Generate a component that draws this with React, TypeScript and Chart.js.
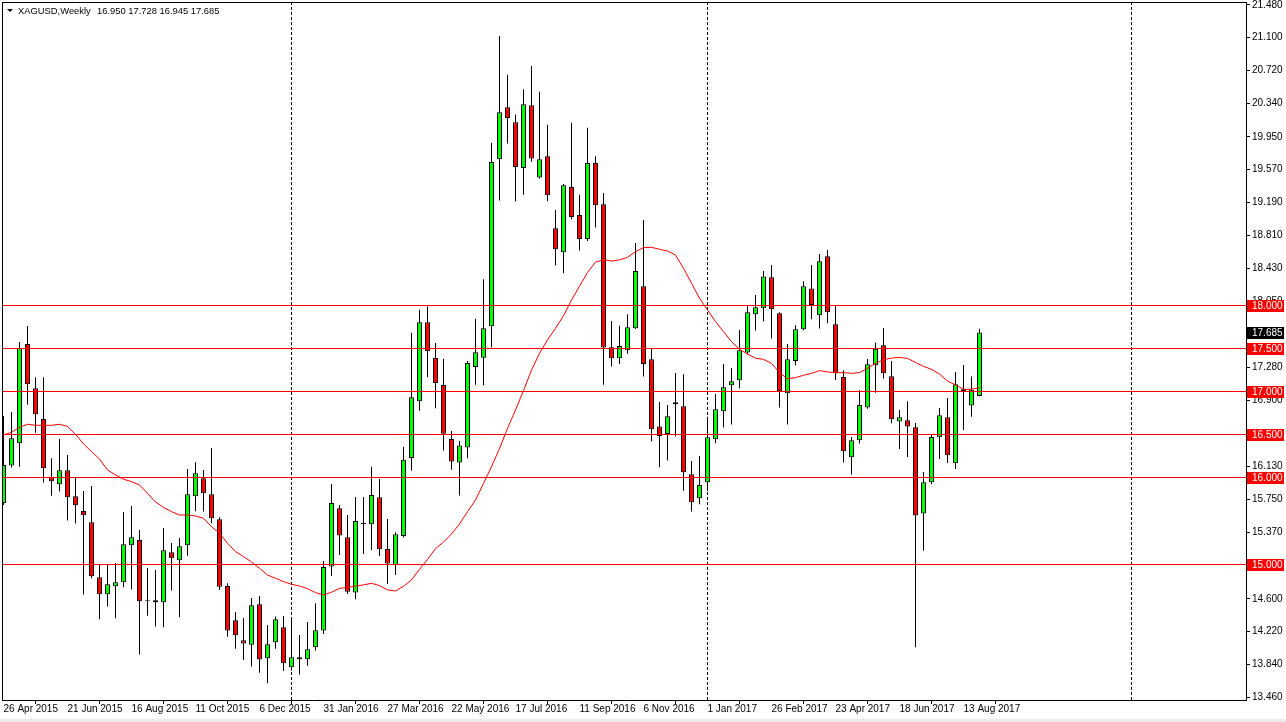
import React, { useEffect, useRef } from 'react';
import { Chart, registerables } from 'chart.js';
Chart.register(...registerables);

const symbolTitle = 'XAGUSD,Weekly';

const opens = [
  15.707, 16.143, 16.402, 17.552, 17.039, 16.683, 16.008, 15.927, 16.089, 15.788,
  15.618, 15.486, 14.849, 14.653, 14.745, 14.792, 15.220, 15.282, 14.578, 14.583,
  14.560, 15.139, 15.046, 15.220, 15.788, 15.996, 15.811, 15.521, 14.749, 14.351,
  14.120, 14.069, 14.537, 13.911, 14.097, 14.270, 13.807, 13.923, 13.900, 14.039,
  14.232, 14.973, 15.649, 15.313, 14.672, 15.467, 15.463, 15.776, 15.178, 14.992,
  15.327, 16.231, 16.888, 17.804, 17.389, 17.076, 16.450, 16.180, 16.352, 17.284,
  17.393, 17.757, 19.691, 20.294, 20.121, 19.589, 20.317, 19.479, 19.726, 18.892,
  18.614, 19.370, 19.045, 18.767, 19.648, 19.170, 17.514, 17.386, 17.479, 17.734,
  18.220, 17.375, 16.595, 16.510, 16.853, 16.830, 16.042, 15.764, 15.950, 16.448,
  16.772, 17.073, 17.131, 17.452, 17.896, 17.965, 18.324, 17.907, 16.981, 17.355,
  17.722, 18.193, 17.884, 18.568, 17.780, 17.170, 16.239, 16.436, 16.815, 17.305,
  17.537, 17.178, 16.653, 16.668, 16.587, 15.587, 15.950, 16.471, 16.703, 16.170,
  17.027, 16.838, 16.950,
];
const highs = [
  16.718, 16.764, 17.575, 17.761, 17.166, 17.166, 16.228, 16.452, 16.266, 16.012,
  15.849, 15.907, 15.000, 15.000, 15.015, 15.606, 15.676, 15.398, 14.958, 14.934,
  15.421, 15.247, 15.305, 16.104, 16.181, 16.093, 16.347, 15.544, 14.780, 14.448,
  14.378, 14.610, 14.633, 14.297, 14.394, 14.402, 14.363, 14.181, 14.332, 14.548,
  15.039, 15.931, 15.687, 15.571, 15.780, 15.780, 16.131, 15.988, 15.525, 15.371,
  16.360, 17.683, 17.949, 17.988, 17.562, 17.382, 16.544, 16.427, 17.354, 17.843,
  18.301, 19.883, 21.119, 20.669, 20.211, 20.501, 20.771, 20.474, 20.090, 19.104,
  19.405, 20.113, 19.280, 20.055, 19.726, 19.300, 17.819, 17.764, 17.896, 18.722,
  18.988, 17.494, 16.880, 16.846, 17.216, 17.201, 16.197, 16.255, 16.710, 16.973,
  17.320, 17.274, 17.714, 18.000, 18.120, 18.398, 18.467, 17.919, 17.552, 17.768,
  18.278, 18.467, 18.595, 18.641, 17.996, 17.247, 16.475, 17.019, 17.378, 17.568,
  17.737, 17.355, 16.788, 16.888, 16.637, 16.069, 16.498, 16.811, 16.927, 17.228,
  17.309, 17.174, 17.728,
];
const lows = [
  15.687, 16.120, 16.131, 16.849, 16.525, 15.946, 15.795, 15.842, 15.506, 15.471,
  14.649, 14.838, 14.363, 14.510, 14.375, 14.734, 14.707, 13.954, 14.405, 14.278,
  14.270, 14.695, 14.386, 15.100, 15.614, 15.610, 15.475, 14.703, 14.162, 14.023,
  13.892, 13.815, 13.745, 13.622, 14.023, 13.764, 13.768, 13.722, 13.826, 14.000,
  14.193, 14.865, 15.108, 14.656, 14.595, 15.120, 15.166, 15.097, 14.772, 14.876,
  15.310, 16.082, 16.779, 17.166, 16.806, 16.317, 16.094, 15.796, 16.227, 17.080,
  17.072, 17.511, 19.213, 19.875, 19.202, 19.280, 19.663, 19.468, 19.205, 18.462,
  18.372, 18.998, 18.634, 18.744, 18.900, 17.080, 17.290, 17.320, 17.440, 17.725,
  17.174, 16.421, 16.124, 16.201, 16.479, 15.853, 15.610, 15.695, 15.853, 16.402,
  16.583, 16.618, 17.035, 17.432, 17.707, 17.811, 17.614, 16.815, 16.618, 17.305,
  17.710, 17.838, 17.730, 17.792, 17.135, 16.178, 16.039, 16.398, 16.803, 16.988,
  17.151, 16.633, 16.336, 16.243, 14.039, 15.158, 15.927, 16.220, 16.174, 16.104,
  16.556, 16.710, 16.945,
];
const closes = [
  16.151, 16.459, 17.502, 17.085, 16.737, 16.112, 15.961, 16.089, 15.776, 15.683,
  15.568, 14.861, 14.653, 14.768, 14.792, 15.232, 15.313, 14.571, 14.578, 14.560,
  15.162, 15.069, 15.208, 15.811, 16.054, 15.822, 15.533, 14.741, 14.232, 14.178,
  14.081, 14.525, 13.896, 14.073, 14.363, 13.853, 13.923, 13.900, 14.015, 14.236,
  14.969, 15.710, 15.332, 14.683, 15.502, 15.467, 15.803, 15.174, 15.008, 15.347,
  16.211, 16.935, 17.804, 17.468, 17.100, 16.513, 16.192, 16.376, 17.331, 17.456,
  17.734, 19.659, 20.235, 20.168, 19.601, 20.329, 19.699, 19.691, 19.276, 18.650,
  19.389, 19.022, 18.767, 19.648, 19.159, 17.510, 17.386, 17.529, 17.745, 18.398,
  17.320, 16.564, 16.486, 16.714, 16.876, 16.066, 15.718, 15.919, 16.471, 16.795,
  17.050, 17.120, 17.479, 17.919, 17.977, 18.332, 17.954, 17.004, 17.375, 17.722,
  18.220, 18.004, 18.510, 17.919, 17.212, 16.309, 16.436, 16.846, 17.317, 17.498,
  17.212, 16.680, 16.703, 16.595, 15.564, 15.950, 16.475, 16.726, 16.263, 17.085,
  17.004, 17.023, 17.685,
];
const maValues = [
  16.498, 16.529, 16.587, 16.622, 16.610, 16.610, 16.610, 16.622, 16.598, 16.506,
  16.394, 16.305, 16.220, 16.093, 16.035, 15.985, 15.958, 15.919, 15.822, 15.722,
  15.660, 15.610, 15.571, 15.571, 15.560, 15.533, 15.436, 15.359, 15.243, 15.147,
  15.089, 15.027, 14.954, 14.876, 14.838, 14.799, 14.768, 14.749, 14.718, 14.672,
  14.645, 14.676, 14.722, 14.730, 14.749, 14.761, 14.780, 14.753, 14.703, 14.691,
  14.745, 14.818, 14.941, 15.057, 15.181, 15.258, 15.351, 15.466, 15.609, 15.744,
  15.937, 16.131, 16.340, 16.575, 16.787, 17.011, 17.250, 17.443, 17.600, 17.733,
  17.880, 18.060, 18.220, 18.380, 18.500, 18.528, 18.513, 18.525, 18.556, 18.621,
  18.668, 18.672, 18.648, 18.629, 18.583, 18.428, 18.255, 18.081, 17.946, 17.811,
  17.695, 17.579, 17.490, 17.436, 17.386, 17.374, 17.328, 17.220, 17.150, 17.162,
  17.189, 17.212, 17.243, 17.228, 17.220, 17.220, 17.212, 17.220, 17.270, 17.328,
  17.370, 17.388, 17.397, 17.384, 17.338, 17.293, 17.258, 17.204, 17.123, 17.077,
  17.027, 17.027, 17.046,
];

// one date label every 8 weekly bars, starting at the first bar
const dateLabels = [
  '26 Apr 2015', '21 Jun 2015', '16 Aug 2015', '11 Oct 2015', '6 Dec 2015',
  '31 Jan 2016', '27 Mar 2016', '22 May 2016', '17 Jul 2016', '11 Sep 2016',
  '6 Nov 2016', '1 Jan 2017', '26 Feb 2017', '23 Apr 2017', '18 Jun 2017', '13 Aug 2017',
];
const priceTicks = [
  21.48, 21.10, 20.72, 20.34, 19.95, 19.57, 19.19, 18.81, 18.43, 18.05, 17.66,
  17.28, 16.90, 16.51, 16.13, 15.75, 15.37, 14.99, 14.60, 14.22, 13.84, 13.46,
];
const levels = [18.0, 17.5, 17.0, 16.5, 16.0, 15.0];
const yearSeparatorBars = [36, 88, 141];

const FONT = '"Liberation Sans", Arial, sans-serif';

export default function App() {
  const ref = useRef<HTMLCanvasElement | null>(null);

  useEffect(() => {
    const canvas = ref.current;
    if (!canvas) return;
    const n = opens.length;
    const idx = opens.map((_, i) => i);
    const wickData = idx.map((i) => ({ x: i, y: [lows[i], highs[i]] }));
    const bodyData = idx.map((i) => ({ x: i, y: [opens[i], closes[i]] }));
    const bodyColors = idx.map((i) =>
      closes[i] > opens[i] ? '#00ff00' : closes[i] < opens[i] ? '#ff0000' : '#000000'
    );
    const maData = idx.map((i) => ({ x: i, y: maValues[i] }));
    const last = n - 1;

    const overlay = {
      id: 'overlay',
      beforeDraw(chart: any) {
        const { ctx } = chart;
        ctx.save();
        ctx.fillStyle = '#ffffff';
        ctx.fillRect(0, 0, chart.width, chart.height);
        ctx.fillStyle = '#ececec';
        ctx.fillRect(0, chart.height - 3, chart.width, 3);
        ctx.restore();
      },
      beforeDatasetsDraw(chart: any) {
        const { ctx, chartArea } = chart;
        const xs = chart.scales.x;
        ctx.save();
        ctx.strokeStyle = '#000000';
        ctx.lineWidth = 1;
        ctx.setLineDash([3, 2]);
        yearSeparatorBars.forEach((b) => {
          const px = Math.floor(xs.getPixelForValue(b)) + 0.5;
          ctx.beginPath();
          ctx.moveTo(px, chartArea.top);
          ctx.lineTo(px, chartArea.bottom);
          ctx.stroke();
        });
        ctx.restore();
      },
      afterDatasetsDraw(chart: any) {
        const { ctx, chartArea } = chart;
        const ys = chart.scales.y;
        ctx.save();
        ctx.strokeStyle = '#ff0000';
        ctx.lineWidth = 1;
        levels.forEach((lv) => {
          const py = Math.floor(ys.getPixelForValue(lv)) + 0.5;
          ctx.beginPath();
          ctx.moveTo(chartArea.left, py);
          ctx.lineTo(chartArea.right, py);
          ctx.stroke();
        });
        ctx.restore();
      },
      afterDraw(chart: any) {
        const { ctx, chartArea } = chart;
        const ys = chart.scales.y;
        ctx.save();
        // frame (left and top)
        ctx.fillStyle = '#000000';
        ctx.fillRect(chartArea.left, chartArea.top, 1, chartArea.bottom - chartArea.top);
        ctx.fillRect(chartArea.left, chartArea.top, chartArea.right - chartArea.left, 1);
        // right-axis boxes
        ctx.font = '10px ' + FONT;
        ctx.textBaseline = 'middle';
        ctx.textAlign = 'left';
        const box = (v: number, color: string) => {
          const py = Math.floor(ys.getPixelForValue(v));
          ctx.fillStyle = color;
          ctx.fillRect(chartArea.right + 1, py - 5, 37, 12);
          ctx.fillStyle = '#ffffff';
          ctx.fillText(v.toFixed(3), chartArea.right + 6, py + 1);
        };
        levels.forEach((lv) => box(lv, '#ff0000'));
        box(closes[last], '#000000');
        // title
        ctx.fillStyle = '#000000';
        ctx.beginPath();
        ctx.moveTo(7, 9);
        ctx.lineTo(13, 9);
        ctx.lineTo(10, 12);
        ctx.closePath();
        ctx.fill();
        ctx.font = '9.4px ' + FONT;
        ctx.fillText(symbolTitle, 18, 11);
        ctx.fillText(
          [opens[last], highs[last], lows[last], closes[last]].map((v) => v.toFixed(3)).join(' '),
          97,
          11
        );
        ctx.restore();
      },
    };

    const chart = new Chart(canvas, {
      type: 'bar',
      data: {
        datasets: [
          {
            type: 'line',
            data: maData,
            borderColor: '#ff0000',
            borderWidth: 1,
            pointRadius: 0,
            tension: 0,
            fill: false,
            order: 0,
          } as any,
          {
            type: 'bar',
            data: bodyData,
            backgroundColor: bodyColors,
            borderColor: '#000000',
            borderWidth: 1,
            borderSkipped: false,
            barThickness: 5,
            maxBarThickness: 5,
            minBarLength: 1,
            inflateAmount: 0,
            grouped: false,
            order: 1,
          } as any,
          {
            type: 'bar',
            data: wickData,
            backgroundColor: '#000000',
            borderWidth: 0,
            barThickness: 1,
            maxBarThickness: 1,
            inflateAmount: 0,
            grouped: false,
            order: 2,
          } as any,
        ],
      },
      options: {
        responsive: false,
        animation: false,
        devicePixelRatio: 1,
        layout: { padding: { left: 2, top: 2, right: 0, bottom: 0 } },
        plugins: { legend: { display: false }, tooltip: { enabled: false } },
        scales: {
          x: {
            type: 'linear',
            min: -0.1875,
            max: 155.3125,
            offset: false,
            afterBuildTicks: (s: any) => {
              s.ticks = dateLabels.map((_, k) => ({ value: k * 8 }));
            },
            afterFit: (s: any) => {
              s.height = 22;
              s.paddingLeft = 0;
              s.paddingRight = 0;
            },
            grid: { display: true, drawOnChartArea: false, drawTicks: true, tickLength: 4, color: '#000000', lineWidth: 1 },
            border: { display: true, color: '#000000', width: 1 },
            ticks: {
              autoSkip: false,
              maxRotation: 0,
              minRotation: 0,
              align: 'start',
              padding: 0,
              color: '#000000',
              font: { family: FONT, size: 10, lineHeight: 1 },
              callback: (v: any) => dateLabels[Math.round(Number(v) / 8)] ?? '',
            },
          },
          y: {
            type: 'linear',
            position: 'right',
            min: 13.428,
            max: 21.513,
            afterBuildTicks: (s: any) => {
              s.ticks = priceTicks.map((v) => ({ value: v }));
            },
            afterFit: (s: any) => {
              s.width = 40;
              s.paddingTop = 0;
              s.paddingBottom = 0;
            },
            grid: { display: true, drawOnChartArea: false, drawTicks: true, tickLength: 4, color: '#000000' },
            border: { display: true, color: '#000000', width: 1 },
            ticks: {
              autoSkip: false,
              padding: 2,
              crossAlign: 'near',
              color: '#000000',
              font: { family: FONT, size: 10 },
              callback: (v: any) => Number(v).toFixed(3),
            },
          },
        },
      } as any,
      plugins: [overlay],
    });
    return () => chart.destroy();
  }, []);

  return (
    <div style={{ position: 'fixed', left: 0, top: 0, width: 1286, height: 722, background: '#ffffff' }}>
      <canvas ref={ref} width={1286} height={722} style={{ display: 'block' }} />
    </div>
  );
}
